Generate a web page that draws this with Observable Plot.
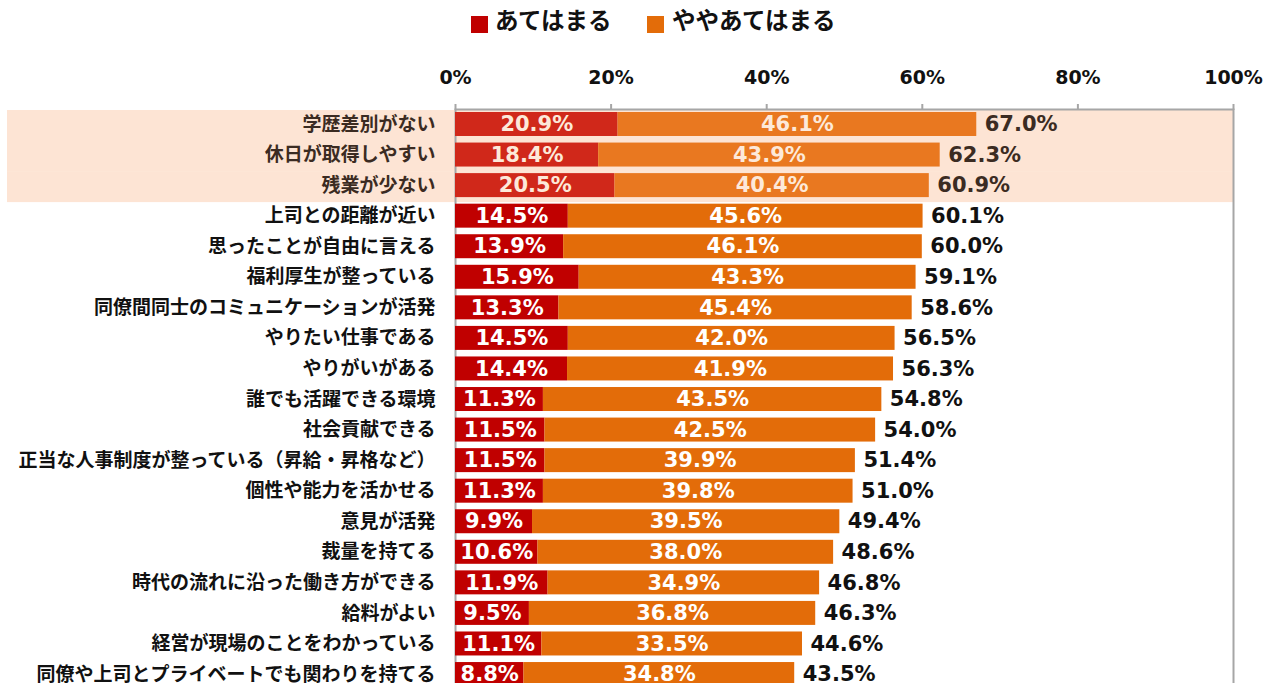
<!DOCTYPE html>
<html><head><meta charset="utf-8">
<script src="https://cdn.jsdelivr.net/npm/d3@7"></script>
<script src="https://cdn.jsdelivr.net/npm/@observablehq/plot@0.6"></script>
<style>
html,body{margin:0;padding:0;background:#fff;overflow:hidden;}
#wrap{position:relative;width:1274px;}
#legend{position:relative;height:48px;font-family:"Noto Sans CJK JP",sans-serif;font-weight:700;font-size:23.5px;color:#111;}
.sw{position:absolute;width:17px;height:17px;top:16px;}
.lt{position:absolute;top:8px;line-height:23.5px;white-space:nowrap;}
g[aria-label^="x-axis"] text{fill:#111;}
g[aria-label^="x-axis"] line, g[aria-label^="x-axis"] path{stroke-width:2px;}
</style></head>
<body><div id="wrap"><div id="legend"></div><div id="chart"></div></div>
<script>
const categories = [
  "学歴差別がない",
  "休日が取得しやすい",
  "残業が少ない",
  "上司との距離が近い",
  "思ったことが自由に言える",
  "福利厚生が整っている",
  "同僚間同士のコミュニケーションが活発",
  "やりたい仕事である",
  "やりがいがある",
  "誰でも活躍できる環境",
  "社会貢献できる",
  "正当な人事制度が整っている（昇給・昇格など）",
  "個性や能力を活かせる",
  "意見が活発",
  "裁量を持てる",
  "時代の流れに沿った働き方ができる",
  "給料がよい",
  "経営が現場のことをわかっている",
  "同僚や上司とプライベートでも関わりを持てる"
];
const atehamaru = [20.9,18.4,20.5,14.5,13.9,15.9,13.3,14.5,14.4,11.3,11.5,11.5,11.3,9.9,10.6,11.9,9.5,11.1,8.8];
const yayaAtehamaru = [46.1,43.9,40.4,45.6,46.1,43.3,45.4,42.0,41.9,43.5,42.5,39.9,39.8,39.5,38.0,34.9,36.8,33.5,34.8];
const totals = [67.0,62.3,60.9,60.1,60.0,59.1,58.6,56.5,56.3,54.8,54.0,51.4,51.0,49.4,48.6,46.8,46.3,44.6,43.5];
const seriesNames = ["あてはまる","ややあてはまる"];
const xTicks = [0,20,40,60,80,100];
const highlightCount = 3;

const colorsNormal = ["#C00000","#E36C09"];
const colorsHi = ["#D0281A","#E97820"];
const peach = "#FDE4D4";

// legend
const legend = document.getElementById("legend");
const swLeft = [471, 647], txtLeft = [495, 672];
seriesNames.forEach((n,i)=>{
  const s = document.createElement("div"); s.className="sw"; s.style.left=swLeft[i]+"px"; s.style.background=colorsNormal[i]; legend.appendChild(s);
  const t = document.createElement("div"); t.className="lt"; t.style.left=txtLeft[i]+"px"; t.textContent=n; legend.appendChild(t);
});

const rows = categories.map((c,i)=>({cat:c, a:atehamaru[i], b:yayaAtehamaru[i], total:totals[i], hi:i<highlightCount}));
const long = rows.flatMap(r=>[
  {cat:r.cat, s:0, v:r.a, hi:r.hi},
  {cat:r.cat, s:1, v:r.b, hi:r.hi}
]);
const fmt = v => v.toFixed(1) + "%";
const numFont = "DejaVu Sans, sans-serif";

const plot = Plot.plot({
  width:1274, height:655,
  marginTop:61, marginLeft:455, marginRight:41, marginBottom:0,
  style:{fontFamily:"DejaVu Sans, 'Noto Sans CJK JP', sans-serif", fontSize:"19px", fontWeight:"bold", color:"#A6A6A6", background:"transparent", overflow:"visible"},
  x:{domain:[0,100], axis:"top", ticks:xTicks, tickSize:6, tickPadding:20, tickFormat:d=>d+"%", label:null},
  y:{domain:categories, range:[57.43,644.6], padding:0.215, round:false, axis:null},
  marks:[
    Plot.barX(rows.filter(r=>r.hi), {x1:0, x2:100, y:"cat", fill:peach, insetLeft:-448, insetTop:-2, insetBottom:-5}),
    Plot.frame({stroke:"#A6A6A6", strokeWidth:2}),
    Plot.barX(long, Plot.stackX({x:"v", y:"cat", fill:d=>(d.hi?colorsHi:colorsNormal)[d.s]})),
    Plot.text(long, Plot.stackX({x:"v", y:"cat", text:d=>fmt(d.v), fill:d=>d.hi?"#FDE9D9":"#FFFFFF", fontSize:21, fontWeight:"bold", fontFamily:numFont})),
    Plot.text(rows, {x:r=>r.a+r.b, y:"cat", text:r=>fmt(r.total), textAnchor:"start", dx:8, fill:r=>r.hi?"#3B2B22":"#111111", fontSize:21, fontWeight:"bold", fontFamily:numFont}),
    Plot.text(rows, {frameAnchor:"left", y:"cat", text:"cat", textAnchor:"end", dx:-20, fill:r=>r.hi?"#3B2B22":"#111111", fontSize:19, fontWeight:"bold", fontFamily:"'Noto Sans CJK JP', sans-serif"})
  ]
});
document.getElementById("chart").appendChild(plot);
</script>
</body></html>
